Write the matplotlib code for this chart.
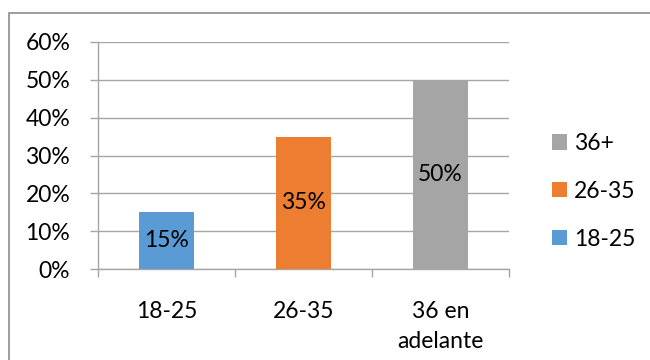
import matplotlib
matplotlib.use("Agg")
import matplotlib.pyplot as plt
from matplotlib.patches import Patch, Rectangle

# data
categories = ["18-25", "26-35", "36 en\nadelante"]
series_names = ["18-25", "26-35", "36+"]
values = [0.15, 0.35, 0.50]
colors = ["#5B9BD5", "#ED7D31", "#A5A5A5"]
y_ticks = [0.0, 0.1, 0.2, 0.3, 0.4, 0.5, 0.6]

plt.rcParams["font.family"] = ["Lato", "DejaVu Sans"]
FS = 16.5
GRID = "#A6A6A6"

fig = plt.figure(figsize=(6.5, 3.6), dpi=100)
ax = fig.add_axes([98 / 650, 1 - 269 / 360, 411 / 650, 227 / 360])

x = list(range(len(categories)))
bars = ax.bar(x, values, width=0.4, color=colors, zorder=3)
for b, v in zip(bars, values):
    ax.text(b.get_x() + b.get_width() / 2, v / 2, f"{v:.0%}",
            ha="center", va="center", fontsize=FS, color="black", zorder=4)

ax.set_xlim(-0.5, len(categories) - 0.5)
ax.set_ylim(0, 0.6)
ax.set_yticks(y_ticks)
ax.set_yticklabels([f"{t:.0%}" for t in y_ticks], fontsize=FS)
ax.set_xticks(x)
ax.set_xticklabels(categories, fontsize=FS, linespacing=1.55)
ax.set_xticks([i - 0.5 for i in range(len(categories) + 1)], minor=True)
ax.tick_params(axis="x", which="major", length=0, pad=23)
ax.tick_params(axis="x", which="minor", length=6, color=GRID, width=1)
ax.tick_params(axis="y", length=6, color=GRID, width=1, pad=14)

ax.grid(axis="y", color=GRID, linewidth=1, zorder=0)
for s in ["top", "right"]:
    ax.spines[s].set_visible(False)
for s in ["left", "bottom"]:
    ax.spines[s].set_color(GRID)
    ax.spines[s].set_linewidth(1)

handles = [Patch(facecolor=c, label=n) for c, n in zip(colors, series_names)][::-1]
fig.legend(handles=handles, loc="upper left", bbox_to_anchor=(552 / 650, 1 - 133 / 360),
           frameon=False, fontsize=FS, handlelength=0.66, handleheight=0.66,
           handletextpad=0.3, labelspacing=1.17, borderpad=0, borderaxespad=0)

# chart border
fig.patches.append(Rectangle((9 / 650, -0.1), 1.1, 1 - 13 / 360 + 0.1,
                             transform=fig.transFigure, fill=False,
                             edgecolor="#8C8C8C", linewidth=1.2))

fig.savefig("out.png", dpi=100)
